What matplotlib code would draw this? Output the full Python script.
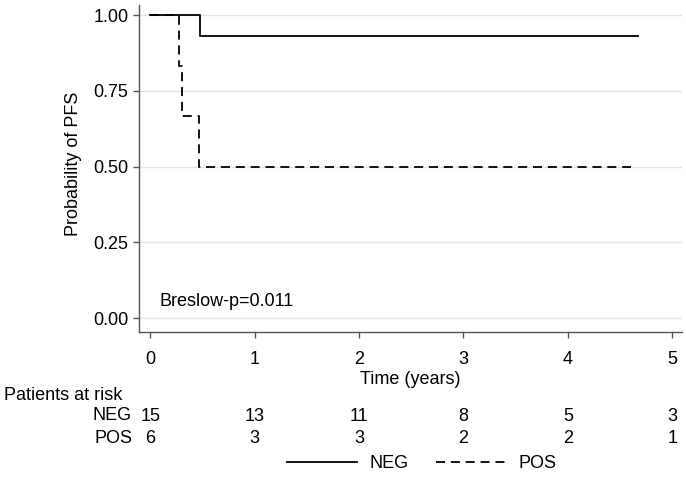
import matplotlib
matplotlib.use("Agg")
import matplotlib.pyplot as plt
from matplotlib.ticker import FormatStrFormatter

plt.rcParams['font.family'] = ['Liberation Sans', 'DejaVu Sans']
plt.rcParams['lines.scale_dashes'] = False

# Kaplan-Meier step data
neg_times = [0.0, 0.48, 4.67]
neg_surv = [1.0, 0.933, 0.933]
pos_times = [0.0, 0.28, 0.30, 0.47, 4.60]
pos_surv = [1.0, 0.833, 0.667, 0.5, 0.5]

groups = ["NEG", "POS"]
risk_times = [0, 1, 2, 3, 4, 5]
neg_at_risk = [15, 13, 11, 8, 5, 3]
pos_at_risk = [6, 3, 3, 2, 2, 1]

y_ticks = [0.0, 0.25, 0.5, 0.75, 1.0]
x_ticks = [0, 1, 2, 3, 4, 5]
p_text = "Breslow-p=0.011"

FS = 13
fig = plt.figure(figsize=(6.86, 4.79), dpi=100)
ax = fig.add_axes([0.2026, 0.3079, 0.7916, 0.6817])

dash = (0, (6.5, 4.2))
ax.step(neg_times, neg_surv, where='post', color='black', lw=1.3, label=groups[0])
ax.step(pos_times, pos_surv, where='post', color='black', lw=1.3, linestyle=dash, label=groups[1])

ax.set_xlim(-0.108, 5.093)
ax.set_ylim(-0.0446, 1.034)
ax.set_yticks(y_ticks)
ax.set_xticks(x_ticks)
ax.yaxis.set_major_formatter(FormatStrFormatter('%.2f'))
ax.grid(axis='y', color='#e3e3e3', lw=1)
ax.set_axisbelow(True)

for s in ['top', 'right']:
    ax.spines[s].set_visible(False)
for s in ['left', 'bottom']:
    ax.spines[s].set_color('#555555')
    ax.spines[s].set_linewidth(1.0)
ax.tick_params(axis='both', colors='#555555', labelcolor='black', labelsize=FS, length=4, width=1)
ax.tick_params(axis='x', pad=10)
ax.tick_params(axis='y', pad=3.6)

ax.set_xlabel("Time (years)", fontsize=FS)
ax.xaxis.label.set_va('center')
ax.xaxis.set_label_coords(0.5, -0.1455)
ax.set_ylabel("Probability of PFS", fontsize=FS)
ax.yaxis.label.set_va('center')
ax.yaxis.set_label_coords(-0.1206, 0.515)

ax.text(0.093, 0.053, p_text, fontsize=FS, ha='left', va='center')

# risk table
tr = ax.get_xaxis_transform()
fig.text(4 / 686, 1 - 395 / 479, "Patients at risk", fontsize=FS, ha='left', va='center')
row_y = [-0.2588, -0.3262]
for name, counts, yy in zip(groups, [neg_at_risk, pos_at_risk], row_y):
    fig.text(132 / 686, 1 - (331.5 - yy * 326.5) / 479, name, fontsize=FS, ha='right', va='center')
    for t, c in zip(risk_times, counts):
        ax.text(t, yy, str(c), transform=tr, fontsize=FS, ha='center', va='center', clip_on=False)

fig.legend(loc='center', bbox_to_anchor=(422 / 686, 1 - 464 / 479), ncol=2, frameon=False,
           fontsize=FS, handlelength=3.85, handletextpad=0.72, columnspacing=1.5)

fig.savefig("out.png", dpi=100)
